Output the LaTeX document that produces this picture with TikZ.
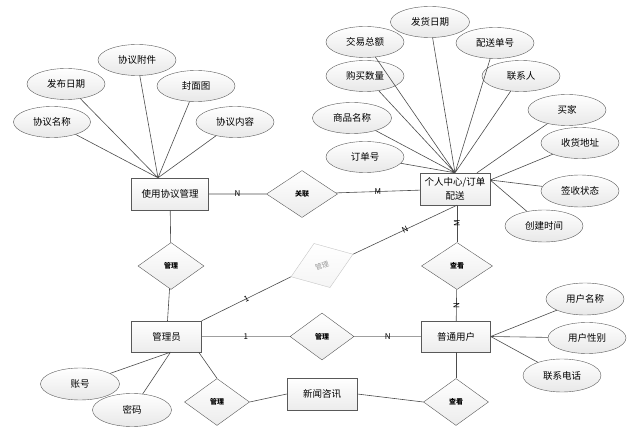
\documentclass[tikz,border=0pt]{standalone}
\usepackage{fontspec}
\setmainfont{Noto Sans CJK SC}
\usetikzlibrary{shapes.geometric}

\begin{document}
\begin{tikzpicture}[x=1pt, y=-1pt,
		attr/.style={shape=ellipse, draw=gray!70!black, top color=white, bottom color=gray!18, minimum width=78pt, minimum height=31pt, inner sep=0pt, font=\fontsize{9.5}{11}\selectfont},
		entity/.style={shape=rectangle, draw=gray!70!black, top color=white, bottom color=gray!15, minimum width=70pt, minimum height=32pt, inner sep=1pt, font=\fontsize{9.5}{11}\selectfont},
		rel/.style={shape=diamond, draw=gray!70!black, top color=white, bottom color=gray!15, minimum width=66pt, minimum height=47pt, inner sep=0pt, font=\fontsize{7}{8}\selectfont\bfseries},
		card/.style={font=\fontsize{8}{9}\selectfont, inner sep=1pt},
		link/.style={draw=gray!60!black, line width=0.6pt}]
			\useasboundingbox (0,0) rectangle (641,433);
			% entities
			\node (usage) at (170,194) [entity, minimum width=77pt] {使用协议管理};
			\node (order) at (455,189) [entity, align=center, font=\fontsize{9.5}{14}\selectfont] {个人中心/订单\\配送};
			\node (admin) at (166.5,336.5) [entity, minimum height=31pt] {管理员};
			\node (user) at (456,336.5) [entity, minimum width=69pt, minimum height=31pt] {普通用户};
			\node (news) at (322,394) [entity] {新闻咨讯};
			% relations
			\node (relate) at (302,194) [rel, minimum width=71pt] {关联};
			\node (manageup) at (171,266) [rel] {管理};
			\node (managemid) at (322,336.5) [rel, minimum width=64pt] {管理};
			\node (managelow) at (217,402) [rel, minimum width=65pt] {管理};
			\node (viewup) at (457,266) [rel, minimum width=71pt] {查看};
			\node (viewlow) at (456,402) [rel, minimum width=65pt] {查看};
			\node (manageorder) at (322,265.5) [rel, rotate=20, draw=gray!45, bottom color=gray!8, text=gray!80, font=\fontsize{7}{8}\selectfont] {管理};
			% attributes of usage
			\node (pname) at (52,122) [attr, minimum width=77pt] {协议名称};
			\node (pdate) at (66,84) [attr] {发布日期};
			\node (pfile) at (137,60) [attr] {协议附件};
			\node (pcover) at (196,86) [attr] {封面图};
			\node (ptext) at (235,122) [attr] {协议内容};
			% attributes of order
			\node (shipdate) at (430,22) [attr, minimum width=79pt] {发货日期};
			\node (total) at (365,42) [attr] {交易总额};
			\node (shipno) at (495,43) [attr] {配送单号};
			\node (amount) at (365,76) [attr] {购买数量};
			\node (contact) at (521,76) [attr] {联系人};
			\node (goods) at (352,118) [attr, minimum width=79pt] {商品名称};
			\node (buyer) at (567,110) [attr] {买家};
			\node (orderno) at (365,157) [attr] {订单号};
			\node (address) at (580,143) [attr] {收货地址};
			\node (signed) at (580,191) [attr, minimum height=32pt] {签收状态};
			\node (created) at (544,226) [attr, minimum height=32pt] {创建时间};
			% attributes of user and admin
			\node (uname) at (585,299) [attr, minimum height=32pt] {用户名称};
			\node (usex) at (587,338) [attr] {用户性别};
			\node (uphone) at (562,375.5) [attr, minimum height=33pt] {联系电话};
			\node (account) at (80,384) [attr, minimum width=79pt, minimum height=32pt] {账号};
			\node (password) at (132,410) [attr, minimum width=79pt, minimum height=33pt] {密码};
			% hubs
			\coordinate (usagehub) at ([xshift=-12pt]usage.north);
			\coordinate (orderhub) at (order.north);
			\coordinate (buyerhub) at ([xshift=22pt]order.north);
			\coordinate (orderside) at ([yshift=9pt]order.east);
			\coordinate (orderfoot) at ([xshift=2pt]order.south);
			\coordinate (adminfoot) at ([xshift=4pt]admin.south);
			\coordinate (admincorner) at ([xshift=-3pt]admin.south east);
			\draw[link] (pname) -- (usagehub) (pdate) -- (usagehub) (pfile) -- (usagehub) (pcover) -- (usagehub) (ptext) -- (usagehub);
			\draw[link] (shipdate) -- (orderhub) (total) -- (orderhub) (shipno) -- (orderhub) (amount) -- (orderhub) (contact) -- (orderhub) (goods) -- (orderhub) (orderno) -- (orderhub) (buyer) -- (buyerhub) (address) -- (orderside) (signed) -- (orderside) (created) -- (orderside);
			\draw[link] (uname) -- (user.east) (usex) -- (user.east) (uphone) -- (user.east);
			\draw[link] (account) -- (adminfoot) (password) -- (adminfoot);
			% relationships
			\draw[link] (usage) -- node [card] {N} (relate) -- node [card] {M} (order);
			\draw[link] (usage) -- (manageup) -- (admin);
			\draw[link, line width=1.2pt, draw=gray!75] (admin) -- node [card, text=black] {1} (managemid) -- node [card, text=black] {N} (user);
			\draw[link] (admin.north east) -- node [card, sloped] {1} (manageorder.west);
			\draw[link] (manageorder.east) -- node [card, sloped] {N} (orderfoot);
			\draw[link] (orderfoot) -- node [card, rotate=90] {M} (viewup.north);
			\draw[link] (viewup) -- node [card, rotate=90] {N} (user);
			\draw[link] (admincorner) -- (managelow.north);
			\draw[link] (managelow.east) -- (news.west);
			\draw[link] (news.east) -- (viewlow.west);
			\draw[link] (user) -- (viewlow);
		\end{tikzpicture}
\end{document}
